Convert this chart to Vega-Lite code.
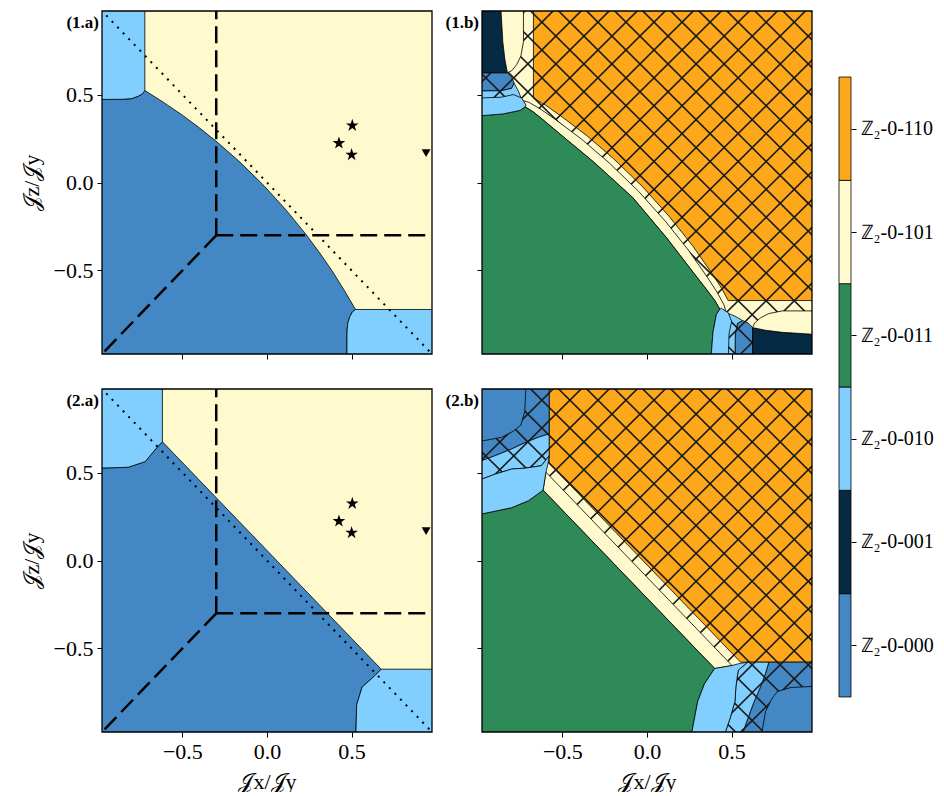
{
"$schema": "https://vega.github.io/schema/vega-lite/v6.json",
"background": "white",
"padding": {"left": 20, "top": 10, "right": 0, "bottom": 0},
"config": {"view": {"stroke": null}, "font": "Liberation Serif",
 "axis": {"domain": false, "grid": false, "tickColor": "black", "tickSize": 5, "tickWidth": 1, "labelFont": "Liberation Serif", "labelFontSize": 22, "labelColor": "black", "titleFont": "Liberation Serif", "titleFontSize": 22, "titleFontWeight": "normal", "titleColor": "black", "labelPadding": 4}},
"datasets": {
"poly": [
{"g":"1a1","id":"sb","c":"000","x":-1,"y":-1},{"g":"1a1","id":"sb","c":"000","x":-1,"y":0.472},{"g":"1a1","id":"sb","c":"000","x":-0.85,"y":0.473},{"g":"1a1","id":"sb","c":"000","x":-0.8,"y":0.477},{"g":"1a1","id":"sb","c":"000","x":-0.762,"y":0.49},{"g":"1a1","id":"sb","c":"000","x":-0.735,"y":0.505},{"g":"1a1","id":"sb","c":"000","x":-0.722,"y":0.523},{"g":"1a1","id":"sb","c":"000","x":-0.62,"y":0.461},{"g":"1a1","id":"sb","c":"000","x":-0.5,"y":0.383},{"g":"1a1","id":"sb","c":"000","x":-0.4,"y":0.311},{"g":"1a1","id":"sb","c":"000","x":-0.295,"y":0.23},{"g":"1a1","id":"sb","c":"000","x":-0.16,"y":0.116},{"g":"1a1","id":"sb","c":"000","x":-0.018,"y":-0.018},{"g":"1a1","id":"sb","c":"000","x":0.116,"y":-0.16},{"g":"1a1","id":"sb","c":"000","x":0.23,"y":-0.295},{"g":"1a1","id":"sb","c":"000","x":0.311,"y":-0.4},{"g":"1a1","id":"sb","c":"000","x":0.383,"y":-0.5},{"g":"1a1","id":"sb","c":"000","x":0.461,"y":-0.62},{"g":"1a1","id":"sb","c":"000","x":0.523,"y":-0.722},{"g":"1a1","id":"sb","c":"000","x":0.505,"y":-0.735},{"g":"1a1","id":"sb","c":"000","x":0.49,"y":-0.762},{"g":"1a1","id":"sb","c":"000","x":0.477,"y":-0.8},{"g":"1a1","id":"sb","c":"000","x":0.473,"y":-0.85},{"g":"1a1","id":"sb","c":"000","x":0.472,"y":-1},
{"g":"1a1","id":"tl","c":"010","x":-1,"y":1},{"g":"1a1","id":"tl","c":"010","x":-0.722,"y":1},{"g":"1a1","id":"tl","c":"010","x":-0.722,"y":0.523},{"g":"1a1","id":"tl","c":"010","x":-0.735,"y":0.505},{"g":"1a1","id":"tl","c":"010","x":-0.762,"y":0.49},{"g":"1a1","id":"tl","c":"010","x":-0.8,"y":0.477},{"g":"1a1","id":"tl","c":"010","x":-0.85,"y":0.473},{"g":"1a1","id":"tl","c":"010","x":-1,"y":0.472},
{"g":"1a1","id":"br","c":"010","x":1,"y":-1},{"g":"1a1","id":"br","c":"010","x":1,"y":-0.722},{"g":"1a1","id":"br","c":"010","x":0.523,"y":-0.722},{"g":"1a1","id":"br","c":"010","x":0.505,"y":-0.735},{"g":"1a1","id":"br","c":"010","x":0.49,"y":-0.762},{"g":"1a1","id":"br","c":"010","x":0.477,"y":-0.8},{"g":"1a1","id":"br","c":"010","x":0.473,"y":-0.85},{"g":"1a1","id":"br","c":"010","x":0.472,"y":-1},
{"g":"2a1","id":"sb","c":"000","x":-1,"y":-1},{"g":"2a1","id":"sb","c":"000","x":-1,"y":0.525},{"g":"2a1","id":"sb","c":"000","x":-0.82,"y":0.53},{"g":"2a1","id":"sb","c":"000","x":-0.72,"y":0.562},{"g":"2a1","id":"sb","c":"000","x":-0.654,"y":0.638},{"g":"2a1","id":"sb","c":"000","x":-0.618,"y":0.675},{"g":"2a1","id":"sb","c":"000","x":0.675,"y":-0.618},{"g":"2a1","id":"sb","c":"000","x":0.638,"y":-0.654},{"g":"2a1","id":"sb","c":"000","x":0.562,"y":-0.72},{"g":"2a1","id":"sb","c":"000","x":0.53,"y":-0.82},{"g":"2a1","id":"sb","c":"000","x":0.525,"y":-1},
{"g":"2a1","id":"tl","c":"010","x":-1,"y":1},{"g":"2a1","id":"tl","c":"010","x":-0.618,"y":1},{"g":"2a1","id":"tl","c":"010","x":-0.618,"y":0.675},{"g":"2a1","id":"tl","c":"010","x":-0.654,"y":0.638},{"g":"2a1","id":"tl","c":"010","x":-0.72,"y":0.562},{"g":"2a1","id":"tl","c":"010","x":-0.82,"y":0.53},{"g":"2a1","id":"tl","c":"010","x":-1,"y":0.525},
{"g":"2a1","id":"br","c":"010","x":1,"y":-1},{"g":"2a1","id":"br","c":"010","x":1,"y":-0.618},{"g":"2a1","id":"br","c":"010","x":0.675,"y":-0.618},{"g":"2a1","id":"br","c":"010","x":0.638,"y":-0.654},{"g":"2a1","id":"br","c":"010","x":0.562,"y":-0.72},{"g":"2a1","id":"br","c":"010","x":0.53,"y":-0.82},{"g":"2a1","id":"br","c":"010","x":0.525,"y":-1},
{"g":"1b1","id":"hc","c":"101","x":-1,"y":1},{"g":"1b1","id":"hc","c":"101","x":-0.671,"y":1},{"g":"1b1","id":"hc","c":"101","x":-0.671,"y":0.48},{"g":"1b1","id":"hc","c":"101","x":-0.6,"y":0.44},{"g":"1b1","id":"hc","c":"101","x":-0.513,"y":0.381},{"g":"1b1","id":"hc","c":"101","x":-0.36,"y":0.27},{"g":"1b1","id":"hc","c":"101","x":-0.198,"y":0.136},{"g":"1b1","id":"hc","c":"101","x":-0.025,"y":-0.025},{"g":"1b1","id":"hc","c":"101","x":0.136,"y":-0.198},{"g":"1b1","id":"hc","c":"101","x":0.27,"y":-0.36},{"g":"1b1","id":"hc","c":"101","x":0.381,"y":-0.513},{"g":"1b1","id":"hc","c":"101","x":0.44,"y":-0.6},{"g":"1b1","id":"hc","c":"101","x":0.48,"y":-0.671},{"g":"1b1","id":"hc","c":"101","x":1,"y":-0.671},{"g":"1b1","id":"hc","c":"101","x":1,"y":-1},{"g":"1b1","id":"hc","c":"101","x":-1,"y":-1},
{"g":"1b2","id":"sbt","c":"000","x":-1,"y":0.624},{"g":"1b2","id":"sbt","c":"000","x":-0.825,"y":0.624},{"g":"1b2","id":"sbt","c":"000","x":-0.8,"y":0.6},{"g":"1b2","id":"sbt","c":"000","x":-0.785,"y":0.565},{"g":"1b2","id":"sbt","c":"000","x":-0.8,"y":0.535},{"g":"1b2","id":"sbt","c":"000","x":-0.86,"y":0.522},{"g":"1b2","id":"sbt","c":"000","x":-1,"y":0.52},
{"g":"1b2","id":"lbt","c":"010","x":-1,"y":0.52},{"g":"1b2","id":"lbt","c":"010","x":-0.86,"y":0.522},{"g":"1b2","id":"lbt","c":"010","x":-0.8,"y":0.535},{"g":"1b2","id":"lbt","c":"010","x":-0.785,"y":0.565},{"g":"1b2","id":"lbt","c":"010","x":-0.76,"y":0.52},{"g":"1b2","id":"lbt","c":"010","x":-0.74,"y":0.47},{"g":"1b2","id":"lbt","c":"010","x":-0.8,"y":0.46},{"g":"1b2","id":"lbt","c":"010","x":-1,"y":0.45},
{"g":"1b2","id":"sbb","c":"000","x":0.624,"y":-1},{"g":"1b2","id":"sbb","c":"000","x":0.624,"y":-0.825},{"g":"1b2","id":"sbb","c":"000","x":0.6,"y":-0.8},{"g":"1b2","id":"sbb","c":"000","x":0.565,"y":-0.785},{"g":"1b2","id":"sbb","c":"000","x":0.535,"y":-0.8},{"g":"1b2","id":"sbb","c":"000","x":0.522,"y":-0.86},{"g":"1b2","id":"sbb","c":"000","x":0.52,"y":-1},
{"g":"1b2","id":"lbb","c":"010","x":0.52,"y":-1},{"g":"1b2","id":"lbb","c":"010","x":0.522,"y":-0.86},{"g":"1b2","id":"lbb","c":"010","x":0.535,"y":-0.8},{"g":"1b2","id":"lbb","c":"010","x":0.565,"y":-0.785},{"g":"1b2","id":"lbb","c":"010","x":0.52,"y":-0.76},{"g":"1b2","id":"lbb","c":"010","x":0.47,"y":-0.74},{"g":"1b2","id":"lbb","c":"010","x":0.46,"y":-0.8},{"g":"1b2","id":"lbb","c":"010","x":0.45,"y":-1},
{"g":"1b3","id":"pc","c":"101","x":-0.73,"y":0.465},{"g":"1b3","id":"pc","c":"101","x":-0.696,"y":0.455},{"g":"1b3","id":"pc","c":"101","x":-0.625,"y":0.415},{"g":"1b3","id":"pc","c":"101","x":-0.538,"y":0.356},{"g":"1b3","id":"pc","c":"101","x":-0.385,"y":0.245},{"g":"1b3","id":"pc","c":"101","x":-0.223,"y":0.111},{"g":"1b3","id":"pc","c":"101","x":-0.05,"y":-0.05},{"g":"1b3","id":"pc","c":"101","x":0.111,"y":-0.223},{"g":"1b3","id":"pc","c":"101","x":0.245,"y":-0.385},{"g":"1b3","id":"pc","c":"101","x":0.356,"y":-0.538},{"g":"1b3","id":"pc","c":"101","x":0.415,"y":-0.625},{"g":"1b3","id":"pc","c":"101","x":0.455,"y":-0.696},{"g":"1b3","id":"pc","c":"101","x":0.465,"y":-0.73},{"g":"1b3","id":"pc","c":"101","x":0.43,"y":-0.72},{"g":"1b3","id":"pc","c":"101","x":0.4,"y":-0.67},{"g":"1b3","id":"pc","c":"101","x":0.345,"y":-0.6},{"g":"1b3","id":"pc","c":"101","x":0.28,"y":-0.52},{"g":"1b3","id":"pc","c":"101","x":0.117,"y":-0.316},{"g":"1b3","id":"pc","c":"101","x":-0.085,"y":-0.085},{"g":"1b3","id":"pc","c":"101","x":-0.316,"y":0.117},{"g":"1b3","id":"pc","c":"101","x":-0.52,"y":0.28},{"g":"1b3","id":"pc","c":"101","x":-0.6,"y":0.345},{"g":"1b3","id":"pc","c":"101","x":-0.67,"y":0.4},{"g":"1b3","id":"pc","c":"101","x":-0.72,"y":0.43},
{"g":"1b4","id":"g","c":"011","x":-1,"y":-1},{"g":"1b4","id":"g","c":"011","x":-1,"y":0.378},{"g":"1b4","id":"g","c":"011","x":-0.85,"y":0.39},{"g":"1b4","id":"g","c":"011","x":-0.75,"y":0.41},{"g":"1b4","id":"g","c":"011","x":-0.72,"y":0.43},{"g":"1b4","id":"g","c":"011","x":-0.67,"y":0.4},{"g":"1b4","id":"g","c":"011","x":-0.6,"y":0.345},{"g":"1b4","id":"g","c":"011","x":-0.52,"y":0.28},{"g":"1b4","id":"g","c":"011","x":-0.316,"y":0.117},{"g":"1b4","id":"g","c":"011","x":-0.085,"y":-0.085},{"g":"1b4","id":"g","c":"011","x":0.117,"y":-0.316},{"g":"1b4","id":"g","c":"011","x":0.28,"y":-0.52},{"g":"1b4","id":"g","c":"011","x":0.345,"y":-0.6},{"g":"1b4","id":"g","c":"011","x":0.4,"y":-0.67},{"g":"1b4","id":"g","c":"011","x":0.43,"y":-0.72},{"g":"1b4","id":"g","c":"011","x":0.41,"y":-0.75},{"g":"1b4","id":"g","c":"011","x":0.39,"y":-0.85},{"g":"1b4","id":"g","c":"011","x":0.378,"y":-1},
{"g":"1b4","id":"lbt","c":"010","x":-1,"y":0.48},{"g":"1b4","id":"lbt","c":"010","x":-0.86,"y":0.485},{"g":"1b4","id":"lbt","c":"010","x":-0.79,"y":0.5},{"g":"1b4","id":"lbt","c":"010","x":-0.74,"y":0.48},{"g":"1b4","id":"lbt","c":"010","x":-0.715,"y":0.44},{"g":"1b4","id":"lbt","c":"010","x":-0.72,"y":0.43},{"g":"1b4","id":"lbt","c":"010","x":-0.75,"y":0.41},{"g":"1b4","id":"lbt","c":"010","x":-0.85,"y":0.39},{"g":"1b4","id":"lbt","c":"010","x":-1,"y":0.378},
{"g":"1b4","id":"lbb","c":"010","x":0.48,"y":-1},{"g":"1b4","id":"lbb","c":"010","x":0.485,"y":-0.86},{"g":"1b4","id":"lbb","c":"010","x":0.5,"y":-0.79},{"g":"1b4","id":"lbb","c":"010","x":0.48,"y":-0.74},{"g":"1b4","id":"lbb","c":"010","x":0.44,"y":-0.715},{"g":"1b4","id":"lbb","c":"010","x":0.43,"y":-0.72},{"g":"1b4","id":"lbb","c":"010","x":0.41,"y":-0.75},{"g":"1b4","id":"lbb","c":"010","x":0.39,"y":-0.85},{"g":"1b4","id":"lbb","c":"010","x":0.378,"y":-1},
{"g":"1b4","id":"nvt","c":"001","x":-1,"y":1},{"g":"1b4","id":"nvt","c":"001","x":-0.864,"y":1},{"g":"1b4","id":"nvt","c":"001","x":-0.852,"y":0.8},{"g":"1b4","id":"nvt","c":"001","x":-0.84,"y":0.7},{"g":"1b4","id":"nvt","c":"001","x":-0.825,"y":0.624},{"g":"1b4","id":"nvt","c":"001","x":-1,"y":0.624},
{"g":"1b4","id":"nvb","c":"001","x":1,"y":-1},{"g":"1b4","id":"nvb","c":"001","x":1,"y":-0.864},{"g":"1b4","id":"nvb","c":"001","x":0.8,"y":-0.852},{"g":"1b4","id":"nvb","c":"001","x":0.7,"y":-0.84},{"g":"1b4","id":"nvb","c":"001","x":0.624,"y":-0.825},{"g":"1b4","id":"nvb","c":"001","x":0.624,"y":-1},
{"g":"1b4","id":"cst","c":"101","x":-0.864,"y":1},{"g":"1b4","id":"cst","c":"101","x":-0.73,"y":1},{"g":"1b4","id":"cst","c":"101","x":-0.73,"y":0.8},{"g":"1b4","id":"cst","c":"101","x":-0.745,"y":0.72},{"g":"1b4","id":"cst","c":"101","x":-0.77,"y":0.67},{"g":"1b4","id":"cst","c":"101","x":-0.8,"y":0.635},{"g":"1b4","id":"cst","c":"101","x":-0.825,"y":0.624},{"g":"1b4","id":"cst","c":"101","x":-0.84,"y":0.7},{"g":"1b4","id":"cst","c":"101","x":-0.852,"y":0.8},
{"g":"1b4","id":"csb","c":"101","x":1,"y":-0.864},{"g":"1b4","id":"csb","c":"101","x":1,"y":-0.73},{"g":"1b4","id":"csb","c":"101","x":0.8,"y":-0.73},{"g":"1b4","id":"csb","c":"101","x":0.72,"y":-0.745},{"g":"1b4","id":"csb","c":"101","x":0.67,"y":-0.77},{"g":"1b4","id":"csb","c":"101","x":0.635,"y":-0.8},{"g":"1b4","id":"csb","c":"101","x":0.624,"y":-0.825},{"g":"1b4","id":"csb","c":"101","x":0.7,"y":-0.84},{"g":"1b4","id":"csb","c":"101","x":0.8,"y":-0.852},
{"g":"2b1","id":"hc","c":"101","x":-1,"y":1},{"g":"2b1","id":"hc","c":"101","x":-0.578,"y":1},{"g":"2b1","id":"hc","c":"101","x":-0.578,"y":0.553},{"g":"2b1","id":"hc","c":"101","x":0.553,"y":-0.578},{"g":"2b1","id":"hc","c":"101","x":1,"y":-0.578},{"g":"2b1","id":"hc","c":"101","x":1,"y":-1},{"g":"2b1","id":"hc","c":"101","x":-1,"y":-1},
{"g":"2b2","id":"sbt","c":"000","x":-1,"y":1},{"g":"2b2","id":"sbt","c":"000","x":-0.578,"y":1},{"g":"2b2","id":"sbt","c":"000","x":-0.578,"y":0.72},{"g":"2b2","id":"sbt","c":"000","x":-0.643,"y":0.7},{"g":"2b2","id":"sbt","c":"000","x":-0.72,"y":0.67},{"g":"2b2","id":"sbt","c":"000","x":-0.8,"y":0.634},{"g":"2b2","id":"sbt","c":"000","x":-0.9,"y":0.595},{"g":"2b2","id":"sbt","c":"000","x":-1,"y":0.559},
{"g":"2b2","id":"lbt","c":"010","x":-1,"y":0.559},{"g":"2b2","id":"lbt","c":"010","x":-0.9,"y":0.595},{"g":"2b2","id":"lbt","c":"010","x":-0.8,"y":0.634},{"g":"2b2","id":"lbt","c":"010","x":-0.72,"y":0.67},{"g":"2b2","id":"lbt","c":"010","x":-0.643,"y":0.7},{"g":"2b2","id":"lbt","c":"010","x":-0.578,"y":0.72},{"g":"2b2","id":"lbt","c":"010","x":-0.578,"y":0.596},{"g":"2b2","id":"lbt","c":"010","x":-0.624,"y":0.539},{"g":"2b2","id":"lbt","c":"010","x":-0.72,"y":0.525},{"g":"2b2","id":"lbt","c":"010","x":-0.8,"y":0.52},{"g":"2b2","id":"lbt","c":"010","x":-0.9,"y":0.49},{"g":"2b2","id":"lbt","c":"010","x":-1,"y":0.454},
{"g":"2b2","id":"sbb","c":"000","x":1,"y":-1},{"g":"2b2","id":"sbb","c":"000","x":1,"y":-0.578},{"g":"2b2","id":"sbb","c":"000","x":0.72,"y":-0.578},{"g":"2b2","id":"sbb","c":"000","x":0.7,"y":-0.643},{"g":"2b2","id":"sbb","c":"000","x":0.67,"y":-0.72},{"g":"2b2","id":"sbb","c":"000","x":0.634,"y":-0.8},{"g":"2b2","id":"sbb","c":"000","x":0.595,"y":-0.9},{"g":"2b2","id":"sbb","c":"000","x":0.559,"y":-1},
{"g":"2b2","id":"lbb","c":"010","x":0.559,"y":-1},{"g":"2b2","id":"lbb","c":"010","x":0.595,"y":-0.9},{"g":"2b2","id":"lbb","c":"010","x":0.634,"y":-0.8},{"g":"2b2","id":"lbb","c":"010","x":0.67,"y":-0.72},{"g":"2b2","id":"lbb","c":"010","x":0.7,"y":-0.643},{"g":"2b2","id":"lbb","c":"010","x":0.72,"y":-0.578},{"g":"2b2","id":"lbb","c":"010","x":0.596,"y":-0.578},{"g":"2b2","id":"lbb","c":"010","x":0.539,"y":-0.624},{"g":"2b2","id":"lbb","c":"010","x":0.525,"y":-0.72},{"g":"2b2","id":"lbb","c":"010","x":0.52,"y":-0.8},{"g":"2b2","id":"lbb","c":"010","x":0.49,"y":-0.9},{"g":"2b2","id":"lbb","c":"010","x":0.454,"y":-1},
{"g":"2b3","id":"pc","c":"101","x":-0.597,"y":0.502},{"g":"2b3","id":"pc","c":"101","x":0.502,"y":-0.597},{"g":"2b3","id":"pc","c":"101","x":0.4,"y":-0.614},{"g":"2b3","id":"pc","c":"101","x":-0.614,"y":0.4},
{"g":"2b4","id":"g","c":"011","x":-1,"y":-1},{"g":"2b4","id":"g","c":"011","x":-1,"y":0.26},{"g":"2b4","id":"g","c":"011","x":-0.8,"y":0.3},{"g":"2b4","id":"g","c":"011","x":-0.7,"y":0.34},{"g":"2b4","id":"g","c":"011","x":-0.614,"y":0.4},{"g":"2b4","id":"g","c":"011","x":0.4,"y":-0.614},{"g":"2b4","id":"g","c":"011","x":0.34,"y":-0.7},{"g":"2b4","id":"g","c":"011","x":0.3,"y":-0.8},{"g":"2b4","id":"g","c":"011","x":0.26,"y":-1},
{"g":"2b4","id":"lbt","c":"010","x":-1,"y":0.454},{"g":"2b4","id":"lbt","c":"010","x":-0.9,"y":0.49},{"g":"2b4","id":"lbt","c":"010","x":-0.8,"y":0.52},{"g":"2b4","id":"lbt","c":"010","x":-0.72,"y":0.525},{"g":"2b4","id":"lbt","c":"010","x":-0.624,"y":0.539},{"g":"2b4","id":"lbt","c":"010","x":-0.578,"y":0.596},{"g":"2b4","id":"lbt","c":"010","x":-0.585,"y":0.55},{"g":"2b4","id":"lbt","c":"010","x":-0.597,"y":0.502},{"g":"2b4","id":"lbt","c":"010","x":-0.614,"y":0.4},{"g":"2b4","id":"lbt","c":"010","x":-0.7,"y":0.34},{"g":"2b4","id":"lbt","c":"010","x":-0.8,"y":0.3},{"g":"2b4","id":"lbt","c":"010","x":-1,"y":0.26},
{"g":"2b4","id":"lbb","c":"010","x":0.454,"y":-1},{"g":"2b4","id":"lbb","c":"010","x":0.49,"y":-0.9},{"g":"2b4","id":"lbb","c":"010","x":0.52,"y":-0.8},{"g":"2b4","id":"lbb","c":"010","x":0.525,"y":-0.72},{"g":"2b4","id":"lbb","c":"010","x":0.539,"y":-0.624},{"g":"2b4","id":"lbb","c":"010","x":0.596,"y":-0.578},{"g":"2b4","id":"lbb","c":"010","x":0.55,"y":-0.585},{"g":"2b4","id":"lbb","c":"010","x":0.502,"y":-0.597},{"g":"2b4","id":"lbb","c":"010","x":0.4,"y":-0.614},{"g":"2b4","id":"lbb","c":"010","x":0.34,"y":-0.7},{"g":"2b4","id":"lbb","c":"010","x":0.3,"y":-0.8},{"g":"2b4","id":"lbb","c":"010","x":0.26,"y":-1},
{"g":"2b4","id":"sbt","c":"000","x":-1,"y":1},{"g":"2b4","id":"sbt","c":"000","x":-0.715,"y":1},{"g":"2b4","id":"sbt","c":"000","x":-0.722,"y":0.85},{"g":"2b4","id":"sbt","c":"000","x":-0.745,"y":0.77},{"g":"2b4","id":"sbt","c":"000","x":-0.79,"y":0.735},{"g":"2b4","id":"sbt","c":"000","x":-0.86,"y":0.7},{"g":"2b4","id":"sbt","c":"000","x":-1,"y":0.675},
{"g":"2b4","id":"sbb","c":"000","x":1,"y":-1},{"g":"2b4","id":"sbb","c":"000","x":1,"y":-0.715},{"g":"2b4","id":"sbb","c":"000","x":0.85,"y":-0.722},{"g":"2b4","id":"sbb","c":"000","x":0.77,"y":-0.745},{"g":"2b4","id":"sbb","c":"000","x":0.735,"y":-0.79},{"g":"2b4","id":"sbb","c":"000","x":0.7,"y":-0.86},{"g":"2b4","id":"sbb","c":"000","x":0.675,"y":-1}
],
"h1": [
{"lo":-2.7768,"hi":-0.8648},{"lo":-2.6184,"hi":-0.7064},{"lo":-2.46,"hi":-0.548},{"lo":-2.3016,"hi":-0.3896},{"lo":-2.1432,"hi":-0.2312},{"lo":-1.9848,"hi":-0.0728},{"lo":-1.8264,"hi":0.0856},{"lo":-1.668,"hi":0.244},{"lo":-1.5096,"hi":0.4024},{"lo":-1.3512,"hi":0.5608},{"lo":-1.1928,"hi":0.7192},{"lo":-1.0344,"hi":0.8776},{"lo":-0.876,"hi":1.036},{"lo":-0.7176,"hi":1.1944},{"lo":-0.5592,"hi":1.3528},{"lo":-0.4008,"hi":1.5112},{"lo":-0.2424,"hi":1.6696},{"lo":-0.084,"hi":1.828},{"lo":0.0744,"hi":1.9864},{"lo":0.2328,"hi":2.1448},{"lo":0.3912,"hi":2.3032},{"lo":0.5496,"hi":2.4616},{"lo":0.708,"hi":2.62},{"lo":0.8664,"hi":2.7784}
],
"h2": [
{"lo":-2.856,"hi":-0.944},{"lo":-2.6976,"hi":-0.7856},{"lo":-2.5392,"hi":-0.6272},{"lo":-2.3808,"hi":-0.4688},{"lo":-2.2224,"hi":-0.3104},{"lo":-2.064,"hi":-0.152},{"lo":-1.9056,"hi":0.0064},{"lo":-1.7472,"hi":0.1648},{"lo":-1.5888,"hi":0.3232},{"lo":-1.4304,"hi":0.4816},{"lo":-1.272,"hi":0.64},{"lo":-1.1136,"hi":0.7984},{"lo":-0.9552,"hi":0.9568},{"lo":-0.7968,"hi":1.1152},{"lo":-0.6384,"hi":1.2736},{"lo":-0.48,"hi":1.432},{"lo":-0.3216,"hi":1.5904},{"lo":-0.1632,"hi":1.7488},{"lo":-0.0048,"hi":1.9072},{"lo":0.1536,"hi":2.0656},{"lo":0.312,"hi":2.224},{"lo":0.4704,"hi":2.3824},{"lo":0.6288,"hi":2.5408},{"lo":0.7872,"hi":2.6992},{"lo":0.9456,"hi":2.8576}
],
"dash": [{"x":-0.3,"y":-0.3,"x2":-0.3,"y2":1},{"x":-0.3,"y":-0.3,"x2":1,"y2":-0.3},{"x":-0.3,"y":-0.3,"x2":-1,"y2":-1}],
"dot": [{"x":-0.95,"y":0.95,"x2":0.96,"y2":-0.96}],
"pts": [{"m":"star","x":0.504,"y":0.324},{"m":"star","x":0.425,"y":0.224},{"m":"star","x":0.5,"y":0.158},{"m":"tri","x":0.94,"y":0.167}],
"cbar": [{"c":"000","lo":0,"hi":1},{"c":"001","lo":1,"hi":2},{"c":"010","lo":2,"hi":3},{"c":"011","lo":3,"hi":4},{"c":"101","lo":4,"hi":5},{"c":"110","lo":5,"hi":6}]
},
"hconcat": [
{"concat": [
  {"width": 330, "height": 343, "view": {"fill": "#FFFACD", "stroke": null},
   "layer": [
    {"data": {"name": "poly"}, "transform": [{"filter": "datum.g=='1a1'"}], "mark": {"type": "line", "interpolate": "linear-closed", "stroke": "black", "strokeWidth": 0.8, "clip": true},
     "encoding": {"x": {"field": "x", "type": "quantitative", "scale": {"domain": [-0.975, 0.975], "nice": false, "zero": false}, "axis": {"values": [-0.5, 0, 0.5], "labels": false, "title": null}},
      "y": {"field": "y", "type": "quantitative", "scale": {"domain": [-0.975, 0.975], "nice": false, "zero": false}, "axis": {"values": [-0.5, 0, 0.5], "format": ".1f", "title": "𝒥z/𝒥y", "titlePadding": 10}},
      "fill": {"field": "c", "type": "nominal", "scale": {"domain": ["000","001","010","011","101","110"], "range": ["#4388C5","#062A44","#80CFFF","#2E8B57","#FFFACD","#FDA81A"]}, "legend": null},
      "detail": {"field": "id"}, "order": {"value": null}}},
    {"data": {"name": "dash"}, "mark": {"type": "rule", "strokeDash": [17, 7], "strokeWidth": 2.5, "color": "black", "clip": true},
     "encoding": {"x": {"field": "x", "type": "quantitative"}, "y": {"field": "y", "type": "quantitative"}, "x2": {"field": "x2"}, "y2": {"field": "y2"}}},
    {"data": {"name": "dot"}, "mark": {"type": "rule", "strokeDash": [2, 6], "strokeWidth": 2, "color": "black", "clip": true},
     "encoding": {"x": {"field": "x", "type": "quantitative"}, "y": {"field": "y", "type": "quantitative"}, "x2": {"field": "x2"}, "y2": {"field": "y2"}}},
    {"data": {"name": "pts"}, "transform": [{"filter": "datum.m=='star'"}], "mark": {"type": "point", "shape": "M0,-1L0.2245,-0.309L0.951,-0.309L0.363,0.118L0.588,0.809L0,0.382L-0.588,0.809L-0.363,0.118L-0.951,-0.309L-0.2245,-0.309Z", "size": 180, "filled": true, "color": "black", "opacity": 1},
     "encoding": {"x": {"field": "x", "type": "quantitative"}, "y": {"field": "y", "type": "quantitative"}}},
    {"data": {"name": "pts"}, "transform": [{"filter": "datum.m=='tri'"}], "mark": {"type": "point", "shape": "triangle-down", "size": 80, "filled": true, "color": "black", "opacity": 1},
     "encoding": {"x": {"field": "x", "type": "quantitative"}, "y": {"field": "y", "type": "quantitative"}}},
    {"data": {"values": [{"t": "(1.a)"}]}, "mark": {"type": "text", "align": "right", "baseline": "top", "dx": -3, "dy": 4, "fontWeight": "bold", "fontSize": 17, "font": "Liberation Serif"},
     "encoding": {"x": {"datum": -0.975, "type": "quantitative"}, "y": {"datum": 0.975, "type": "quantitative"}, "text": {"field": "t"}}},
    {"data": {"values": [{}]}, "mark": {"type": "rect", "filled": false, "color": "black", "strokeWidth": 1.3},
     "encoding": {"x": {"datum": -0.975, "type": "quantitative"}, "x2": {"datum": 0.975}, "y": {"datum": -0.975, "type": "quantitative"}, "y2": {"datum": 0.975}}}
   ]},
  {"width": 330, "height": 343, "view": {"fill": "#FDA81A", "stroke": null},
   "layer": [
    {"data": {"name": "poly"}, "transform": [{"filter": "datum.g=='1b1'"}], "mark": {"type": "line", "interpolate": "linear-closed", "stroke": "black", "strokeWidth": 0.8, "clip": true},
     "encoding": {"x": {"field": "x", "type": "quantitative", "scale": {"domain": [-0.975, 0.975], "nice": false, "zero": false}, "axis": {"values": [-0.5, 0, 0.5], "labels": false, "title": null}},
      "y": {"field": "y", "type": "quantitative", "scale": {"domain": [-0.975, 0.975], "nice": false, "zero": false}, "axis": {"values": [-0.5, 0, 0.5], "labels": false, "title": null}},
      "fill": {"field": "c", "type": "nominal", "scale": {"domain": ["000","001","010","011","101","110"], "range": ["#4388C5","#062A44","#80CFFF","#2E8B57","#FFFACD","#FDA81A"]}, "legend": null},
      "detail": {"field": "id"}, "order": {"value": null}}},
    {"data": {"name": "poly"}, "transform": [{"filter": "datum.g=='1b2'"}], "mark": {"type": "line", "interpolate": "linear-closed", "stroke": "black", "strokeWidth": 0.8, "clip": true},
     "encoding": {"x": {"field": "x", "type": "quantitative"}, "y": {"field": "y", "type": "quantitative"},
      "fill": {"field": "c", "type": "nominal", "scale": {"domain": ["000","001","010","011","101","110"], "range": ["#4388C5","#062A44","#80CFFF","#2E8B57","#FFFACD","#FDA81A"]}, "legend": null},
      "detail": {"field": "id"}, "order": {"value": null}}},
    {"data": {"name": "h1"}, "mark": {"type": "rule", "color": "#1a1a1a", "strokeWidth": 1.6, "clip": true},
     "encoding": {"x": {"datum": -1, "type": "quantitative"}, "x2": {"datum": 1}, "y": {"field": "lo", "type": "quantitative"}, "y2": {"field": "hi"}}},
    {"data": {"name": "h2"}, "mark": {"type": "rule", "color": "#1a1a1a", "strokeWidth": 1.6, "clip": true},
     "encoding": {"x": {"datum": -1, "type": "quantitative"}, "x2": {"datum": 1}, "y": {"field": "hi", "type": "quantitative"}, "y2": {"field": "lo"}}},
    {"data": {"name": "poly"}, "transform": [{"filter": "datum.g=='1b3'"}], "mark": {"type": "line", "interpolate": "linear-closed", "stroke": "black", "strokeWidth": 0.8, "clip": true},
     "encoding": {"x": {"field": "x", "type": "quantitative"}, "y": {"field": "y", "type": "quantitative"},
      "fill": {"field": "c", "type": "nominal", "scale": {"domain": ["000","001","010","011","101","110"], "range": ["#4388C5","#062A44","#80CFFF","#2E8B57","#FFFACD","#FDA81A"]}, "legend": null},
      "detail": {"field": "id"}, "order": {"value": null}}},
    {"data": {"name": "poly"}, "transform": [{"filter": "datum.g=='1b4'"}], "mark": {"type": "line", "interpolate": "linear-closed", "stroke": "black", "strokeWidth": 0.8, "clip": true},
     "encoding": {"x": {"field": "x", "type": "quantitative"}, "y": {"field": "y", "type": "quantitative"},
      "fill": {"field": "c", "type": "nominal", "scale": {"domain": ["000","001","010","011","101","110"], "range": ["#4388C5","#062A44","#80CFFF","#2E8B57","#FFFACD","#FDA81A"]}, "legend": null},
      "detail": {"field": "id"}, "order": {"value": null}}},
    {"data": {"values": [{"t": "(1.b)"}]}, "mark": {"type": "text", "align": "right", "baseline": "top", "dx": -3, "dy": 4, "fontWeight": "bold", "fontSize": 17, "font": "Liberation Serif"},
     "encoding": {"x": {"datum": -0.975, "type": "quantitative"}, "y": {"datum": 0.975, "type": "quantitative"}, "text": {"field": "t"}}},
    {"data": {"values": [{}]}, "mark": {"type": "rect", "filled": false, "color": "black", "strokeWidth": 1.3},
     "encoding": {"x": {"datum": -0.975, "type": "quantitative"}, "x2": {"datum": 0.975}, "y": {"datum": -0.975, "type": "quantitative"}, "y2": {"datum": 0.975}}}
   ]},
  {"width": 330, "height": 343, "view": {"fill": "#FFFACD", "stroke": null},
   "layer": [
    {"data": {"name": "poly"}, "transform": [{"filter": "datum.g=='2a1'"}], "mark": {"type": "line", "interpolate": "linear-closed", "stroke": "black", "strokeWidth": 0.8, "clip": true},
     "encoding": {"x": {"field": "x", "type": "quantitative", "scale": {"domain": [-0.975, 0.975], "nice": false, "zero": false}, "axis": {"values": [-0.5, 0, 0.5], "format": ".1f", "title": "𝒥x/𝒥y", "titlePadding": 9}},
      "y": {"field": "y", "type": "quantitative", "scale": {"domain": [-0.975, 0.975], "nice": false, "zero": false}, "axis": {"values": [-0.5, 0, 0.5], "format": ".1f", "title": "𝒥z/𝒥y", "titlePadding": 10}},
      "fill": {"field": "c", "type": "nominal", "scale": {"domain": ["000","001","010","011","101","110"], "range": ["#4388C5","#062A44","#80CFFF","#2E8B57","#FFFACD","#FDA81A"]}, "legend": null},
      "detail": {"field": "id"}, "order": {"value": null}}},
    {"data": {"name": "dash"}, "mark": {"type": "rule", "strokeDash": [17, 7], "strokeWidth": 2.5, "color": "black", "clip": true},
     "encoding": {"x": {"field": "x", "type": "quantitative"}, "y": {"field": "y", "type": "quantitative"}, "x2": {"field": "x2"}, "y2": {"field": "y2"}}},
    {"data": {"name": "dot"}, "mark": {"type": "rule", "strokeDash": [2, 6], "strokeWidth": 2, "color": "black", "clip": true},
     "encoding": {"x": {"field": "x", "type": "quantitative"}, "y": {"field": "y", "type": "quantitative"}, "x2": {"field": "x2"}, "y2": {"field": "y2"}}},
    {"data": {"name": "pts"}, "transform": [{"filter": "datum.m=='star'"}], "mark": {"type": "point", "shape": "M0,-1L0.2245,-0.309L0.951,-0.309L0.363,0.118L0.588,0.809L0,0.382L-0.588,0.809L-0.363,0.118L-0.951,-0.309L-0.2245,-0.309Z", "size": 180, "filled": true, "color": "black", "opacity": 1},
     "encoding": {"x": {"field": "x", "type": "quantitative"}, "y": {"field": "y", "type": "quantitative"}}},
    {"data": {"name": "pts"}, "transform": [{"filter": "datum.m=='tri'"}], "mark": {"type": "point", "shape": "triangle-down", "size": 80, "filled": true, "color": "black", "opacity": 1},
     "encoding": {"x": {"field": "x", "type": "quantitative"}, "y": {"field": "y", "type": "quantitative"}}},
    {"data": {"values": [{"t": "(2.a)"}]}, "mark": {"type": "text", "align": "right", "baseline": "top", "dx": -3, "dy": 4, "fontWeight": "bold", "fontSize": 17, "font": "Liberation Serif"},
     "encoding": {"x": {"datum": -0.975, "type": "quantitative"}, "y": {"datum": 0.975, "type": "quantitative"}, "text": {"field": "t"}}},
    {"data": {"values": [{}]}, "mark": {"type": "rect", "filled": false, "color": "black", "strokeWidth": 1.3},
     "encoding": {"x": {"datum": -0.975, "type": "quantitative"}, "x2": {"datum": 0.975}, "y": {"datum": -0.975, "type": "quantitative"}, "y2": {"datum": 0.975}}}
   ]},
  {"width": 330, "height": 343, "view": {"fill": "#FDA81A", "stroke": null},
   "layer": [
    {"data": {"name": "poly"}, "transform": [{"filter": "datum.g=='2b1'"}], "mark": {"type": "line", "interpolate": "linear-closed", "stroke": "black", "strokeWidth": 0.8, "clip": true},
     "encoding": {"x": {"field": "x", "type": "quantitative", "scale": {"domain": [-0.975, 0.975], "nice": false, "zero": false}, "axis": {"values": [-0.5, 0, 0.5], "format": ".1f", "title": "𝒥x/𝒥y", "titlePadding": 9}},
      "y": {"field": "y", "type": "quantitative", "scale": {"domain": [-0.975, 0.975], "nice": false, "zero": false}, "axis": {"values": [-0.5, 0, 0.5], "labels": false, "title": null}},
      "fill": {"field": "c", "type": "nominal", "scale": {"domain": ["000","001","010","011","101","110"], "range": ["#4388C5","#062A44","#80CFFF","#2E8B57","#FFFACD","#FDA81A"]}, "legend": null},
      "detail": {"field": "id"}, "order": {"value": null}}},
    {"data": {"name": "poly"}, "transform": [{"filter": "datum.g=='2b2'"}], "mark": {"type": "line", "interpolate": "linear-closed", "stroke": "black", "strokeWidth": 0.8, "clip": true},
     "encoding": {"x": {"field": "x", "type": "quantitative"}, "y": {"field": "y", "type": "quantitative"},
      "fill": {"field": "c", "type": "nominal", "scale": {"domain": ["000","001","010","011","101","110"], "range": ["#4388C5","#062A44","#80CFFF","#2E8B57","#FFFACD","#FDA81A"]}, "legend": null},
      "detail": {"field": "id"}, "order": {"value": null}}},
    {"data": {"name": "h1"}, "mark": {"type": "rule", "color": "#1a1a1a", "strokeWidth": 1.6, "clip": true},
     "encoding": {"x": {"datum": -1, "type": "quantitative"}, "x2": {"datum": 1}, "y": {"field": "lo", "type": "quantitative"}, "y2": {"field": "hi"}}},
    {"data": {"name": "h2"}, "mark": {"type": "rule", "color": "#1a1a1a", "strokeWidth": 1.6, "clip": true},
     "encoding": {"x": {"datum": -1, "type": "quantitative"}, "x2": {"datum": 1}, "y": {"field": "hi", "type": "quantitative"}, "y2": {"field": "lo"}}},
    {"data": {"name": "poly"}, "transform": [{"filter": "datum.g=='2b3'"}], "mark": {"type": "line", "interpolate": "linear-closed", "stroke": "black", "strokeWidth": 0.8, "clip": true},
     "encoding": {"x": {"field": "x", "type": "quantitative"}, "y": {"field": "y", "type": "quantitative"},
      "fill": {"field": "c", "type": "nominal", "scale": {"domain": ["000","001","010","011","101","110"], "range": ["#4388C5","#062A44","#80CFFF","#2E8B57","#FFFACD","#FDA81A"]}, "legend": null},
      "detail": {"field": "id"}, "order": {"value": null}}},
    {"data": {"name": "poly"}, "transform": [{"filter": "datum.g=='2b4'"}], "mark": {"type": "line", "interpolate": "linear-closed", "stroke": "black", "strokeWidth": 0.8, "clip": true},
     "encoding": {"x": {"field": "x", "type": "quantitative"}, "y": {"field": "y", "type": "quantitative"},
      "fill": {"field": "c", "type": "nominal", "scale": {"domain": ["000","001","010","011","101","110"], "range": ["#4388C5","#062A44","#80CFFF","#2E8B57","#FFFACD","#FDA81A"]}, "legend": null},
      "detail": {"field": "id"}, "order": {"value": null}}},
    {"data": {"values": [{"t": "(2.b)"}]}, "mark": {"type": "text", "align": "right", "baseline": "top", "dx": -3, "dy": 4, "fontWeight": "bold", "fontSize": 17, "font": "Liberation Serif"},
     "encoding": {"x": {"datum": -0.975, "type": "quantitative"}, "y": {"datum": 0.975, "type": "quantitative"}, "text": {"field": "t"}}},
    {"data": {"values": [{}]}, "mark": {"type": "rect", "filled": false, "color": "black", "strokeWidth": 1.3},
     "encoding": {"x": {"datum": -0.975, "type": "quantitative"}, "x2": {"datum": 0.975}, "y": {"datum": -0.975, "type": "quantitative"}, "y2": {"datum": 0.975}}}
   ]}
 ], "columns": 2, "spacing": {"row": 35, "column": 50}, "bounds": "flush"},
{"width": 12, "height": 721, "view": {"fill": "white", "stroke": null}, "data": {"name": "cbar"},
 "mark": {"type": "rect", "stroke": "black", "strokeWidth": 0.8},
 "encoding": {
  "y": {"field": "lo", "type": "quantitative", "scale": {"domain": [-0.339, 6.639], "nice": false, "zero": false},
   "axis": {"orient": "right", "values": [0.5, 1.5, 2.5, 3.5, 4.5, 5.5], "labelExpr": "['ℤ₂-0-000','ℤ₂-0-001','ℤ₂-0-010','ℤ₂-0-011','ℤ₂-0-101','ℤ₂-0-110'][floor(datum.value)]", "title": null, "labelFontSize": 20, "labelPadding": 4}},
  "y2": {"field": "hi"},
  "fill": {"field": "c", "type": "nominal", "scale": {"domain": ["000","001","010","011","101","110"], "range": ["#4388C5","#062A44","#80CFFF","#2E8B57","#FFFACD","#FDA81A"]}, "legend": null}
 }}
],
"spacing": 25
}
